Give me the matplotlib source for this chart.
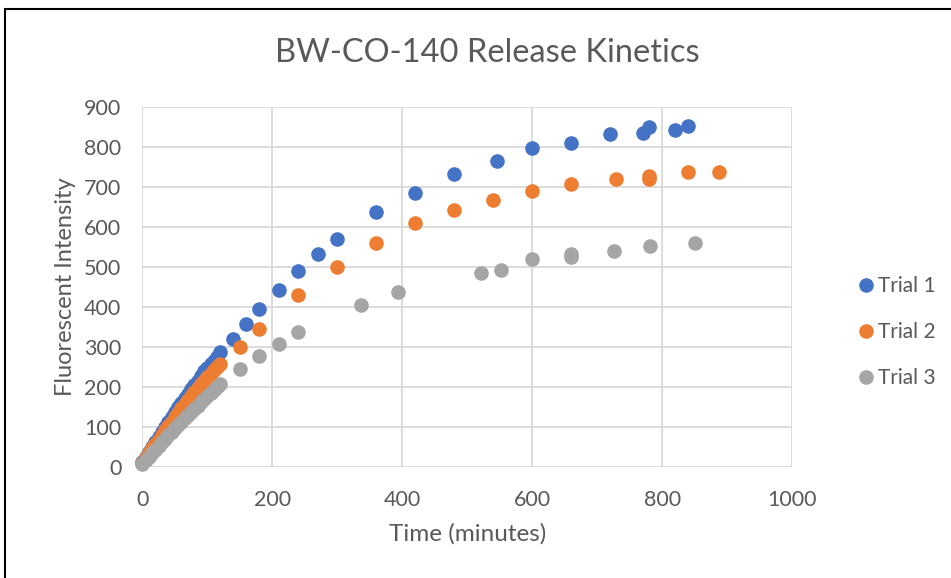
import matplotlib
matplotlib.use("Agg")
import matplotlib.pyplot as plt
from matplotlib.patches import Rectangle

plt.rcParams['font.family'] = ['Lato', 'DejaVu Sans']

# Trial 1
t1 = [0, 5, 10, 15, 20, 25, 30, 35, 40, 45, 50, 55, 60, 65, 70, 75, 80, 85, 90, 95,
      100, 105, 110, 115, 120, 140, 160, 180, 210, 240, 270, 300, 360, 420, 480,
      545, 600, 660, 720, 770, 780, 820, 840]
y1 = [12, 25, 38, 50, 62, 75, 88, 100, 112, 125, 137, 150, 160, 172, 182, 194, 205,
      214, 226, 240, 248, 258, 265, 275, 287, 321, 358, 394, 443, 489, 532, 570,
      637, 685, 733, 765, 799, 810, 833, 836, 850, 844, 852]

# Trial 2
t2 = [0, 5, 10, 15, 20, 25, 30, 35, 40, 45, 50, 55, 60, 65, 70, 75, 80, 85, 90, 95,
      100, 105, 110, 115, 120, 150, 180, 240, 300, 360, 420, 480, 540, 600, 660,
      728, 780, 780, 840, 887]
y2 = [10, 22, 34, 46, 57, 68, 80, 91, 102, 113, 124, 135, 146, 156, 166, 176, 186,
      196, 206, 215, 224, 233, 242, 250, 256, 301, 344, 429, 501, 560, 610, 643,
      669, 691, 707, 721, 720, 727, 737, 739]

# Trial 3
t3 = [0, 5, 10, 15, 20, 25, 30, 35, 40, 45, 50, 55, 60, 65, 70, 75, 80, 85, 90, 95,
      100, 105, 110, 115, 120, 150, 180, 210, 240, 337, 394, 521, 552, 600, 660,
      660, 726, 781, 851]
y3 = [8, 16, 25, 34, 43, 52, 61, 70, 79, 87, 96, 104, 113, 121, 129, 137, 145, 153,
      161, 169, 177, 185, 193, 200, 207, 244, 277, 308, 337, 404, 437, 484, 493,
      519, 526, 533, 539, 553, 560]

series = [("Trial 1", t1, y1, "#4472C4"),
          ("Trial 2", t2, y2, "#ED7D31"),
          ("Trial 3", t3, y3, "#A5A5A5")]

text_color = "#595959"
grid_color = "#D9D9D9"

fig = plt.figure(figsize=(9.51, 5.78), dpi=100)
ax = fig.add_axes([142.3 / 951, 1 - 466.7 / 578, (792.3 - 142.3) / 951, (466.7 - 107.3) / 578])

for name, t, y, c in series:
    ax.plot(t, y, linestyle="none", marker="o", markersize=10.5, color=c,
            markeredgewidth=0, label=name, clip_on=False)

ax.set_xlim(0, 1000)
ax.set_ylim(0, 900)
ax.set_xticks(range(0, 1001, 200))
ax.set_yticks(range(0, 901, 100))
ax.grid(True, color=grid_color, linewidth=1.3)
ax.set_axisbelow(True)
for s in ax.spines.values():
    s.set_visible(False)
ax.tick_params(length=0, colors=text_color, labelsize=15.5)
ax.tick_params(axis='y', pad=15)
ax.tick_params(axis='x', pad=17)

ax.set_xlabel("Time (minutes)", fontsize=17.5, color=text_color, labelpad=9)
ax.set_ylabel("Fluorescent Intensity", fontsize=17, color=text_color, labelpad=6)
fig.text(487 / 951, 1 - 53 / 578, "BW-CO-140 Release Kinetics", ha="center",
         va="center", fontsize=23.5, color=text_color)

leg = ax.legend(loc="center left", bbox_to_anchor=(0.8775, 1 - 332 / 578),
                bbox_transform=fig.transFigure, frameon=False, fontsize=15,
                labelspacing=1.25, handletextpad=0.0, markerscale=1.0,
                handlelength=1.2)
for txt in leg.get_texts():
    txt.set_color(text_color)

# outer chart frame
fig.patches.append(Rectangle((5 / 951, -0.05), 1.1, 1 - 9 / 578 + 0.05,
                             transform=fig.transFigure, fill=False,
                             edgecolor="black", linewidth=1.5))

fig.savefig("out.png", dpi=100)
